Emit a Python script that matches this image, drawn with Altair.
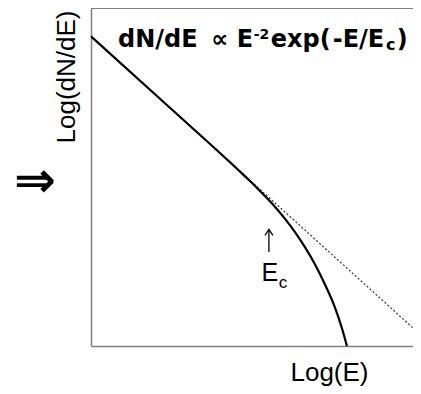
import altair as alt
import pandas as pd

# Solid curve: log(E) vs log(dN/dE) (power law with cutoff)
curve_log_e = [0.0, 1.11, 1.95, 2.10, 2.24, 2.45, 2.59, 2.73, 2.87, 3.01, 3.15, 3.29, 3.43, 3.54, 3.60]
curve_log_flux = [9.62, 7.40, 5.72, 5.41, 5.12, 4.65, 4.32, 3.95, 3.54, 3.07, 2.54, 1.92, 1.21, 0.48, 0.0]

# Dotted pure power law (slope -2)
pl_log_e = [0.0, 4.53]
pl_log_flux = [9.62, 0.56]

# Formula text pieces (left x, baseline y in data units, size)
title_parts = ["dN/dE", "\u221d", "E", "-2", "exp(", "-E/E", "c", ")"]
title_x = [0.38, 1.69, 2.05, 2.29, 2.53, 3.40, 4.15, 4.30]
title_y = [9.30, 9.30, 9.30, 9.55, 9.30, 9.30, 9.20, 9.30]
title_size = [24, 24, 24, 14, 24, 24, 16, 24]

# E_c label
ec_parts = ["E", "c"]
ec_x = [2.40, 2.64]
ec_y = [2.02, 1.80]
ec_size = [25, 17]

# Arrow pointing at E_c: shaft and head
shaft_x = [2.503]
shaft_y = [2.92]
shaft_y2 = [3.62]
head_x = [2.447, 2.503, 2.559]
head_y = [3.44, 3.62, 3.44]

arrow_text = "\u21d2"
arrow_x = -0.79
arrow_y = 5.11

X_DOMAIN = [0, 4.53]
Y_DOMAIN = [0, 10.5]

axis_common = dict(labels=False, ticks=False, grid=False,
                   domainColor="#808080", domainWidth=1.5,
                   titleFont="Liberation Sans", titleFontSize=26,
                   titleFontWeight="normal", titleColor="black")

xenc = alt.X("x:Q", scale=alt.Scale(domain=X_DOMAIN, nice=False, zero=False),
             axis=alt.Axis(title="Log(E)", titleX=238, titleY=34,
                           titleAlign="center", titleBaseline="alphabetic",
                           **axis_common))
yenc = alt.Y("y:Q", scale=alt.Scale(domain=Y_DOMAIN, nice=False, zero=False),
             axis=alt.Axis(title="Log(dN/dE)", titleX=-16.5, titleY=2,
                           titleAngle=270, titleAlign="right",
                           titleBaseline="alphabetic", **axis_common))

curve_df = pd.DataFrame({"x": curve_log_e, "y": curve_log_flux})
pl_df = pd.DataFrame({"x": pl_log_e, "y": pl_log_flux})

curve = alt.Chart(curve_df).mark_line(color="black", strokeWidth=2.2,
                                      interpolate="monotone").encode(x=xenc, y=yenc)
powerlaw = alt.Chart(pl_df).mark_line(color="#333333", strokeWidth=1.2,
                                      strokeDash=[2, 2]).encode(x=xenc, y=yenc)

top_border = alt.Chart(pl_df).mark_rule(color="#808080", strokeWidth=2).encode(
    x=alt.value(0), x2=alt.value(322), y=alt.value(0))

shaft_df = pd.DataFrame({"x": shaft_x, "y": shaft_y, "y2": shaft_y2})
shaft = alt.Chart(shaft_df).mark_rule(color="black", strokeWidth=1.3).encode(
    x=xenc, y=yenc, y2="y2:Q")
head_df = pd.DataFrame({"x": head_x, "y": head_y, "o": [0, 1, 2]})
head = alt.Chart(head_df).mark_line(color="black", strokeWidth=1.3).encode(
    x=xenc, y=yenc, order="o:Q")

layers = [powerlaw, curve, top_border, shaft, head]

for t, xv, yv, s in zip(title_parts, title_x, title_y, title_size):
    df = pd.DataFrame({"x": [xv], "y": [yv], "t": [t]})
    layers.append(alt.Chart(df).mark_text(font="DejaVu Sans", fontWeight="bold",
                                          fontSize=s, align="left",
                                          baseline="alphabetic", color="black")
                  .encode(x=xenc, y=yenc, text="t:N"))

for t, xv, yv, s in zip(ec_parts, ec_x, ec_y, ec_size):
    df = pd.DataFrame({"x": [xv], "y": [yv], "t": [t]})
    layers.append(alt.Chart(df).mark_text(font="Liberation Sans", fontSize=s,
                                          align="left", baseline="alphabetic",
                                          color="black")
                  .encode(x=xenc, y=yenc, text="t:N"))

adf = pd.DataFrame({"x": [arrow_x], "y": [arrow_y], "t": [arrow_text]})
layers.append(alt.Chart(adf).mark_text(font="DejaVu Sans", fontWeight="bold",
                                       fontSize=50, align="center",
                                       baseline="middle", color="black")
              .encode(x=xenc, y=yenc, text="t:N"))

chart = alt.layer(*layers).properties(
    width=322, height=338,
    autosize=alt.AutoSizeParams(type="none"),
    padding={"left": 83, "top": 0, "right": 0, "bottom": 40},
    background="white",
).configure_view(stroke="transparent")

chart.save("out.html", embed_options={"renderer": "svg", "actions": False})
